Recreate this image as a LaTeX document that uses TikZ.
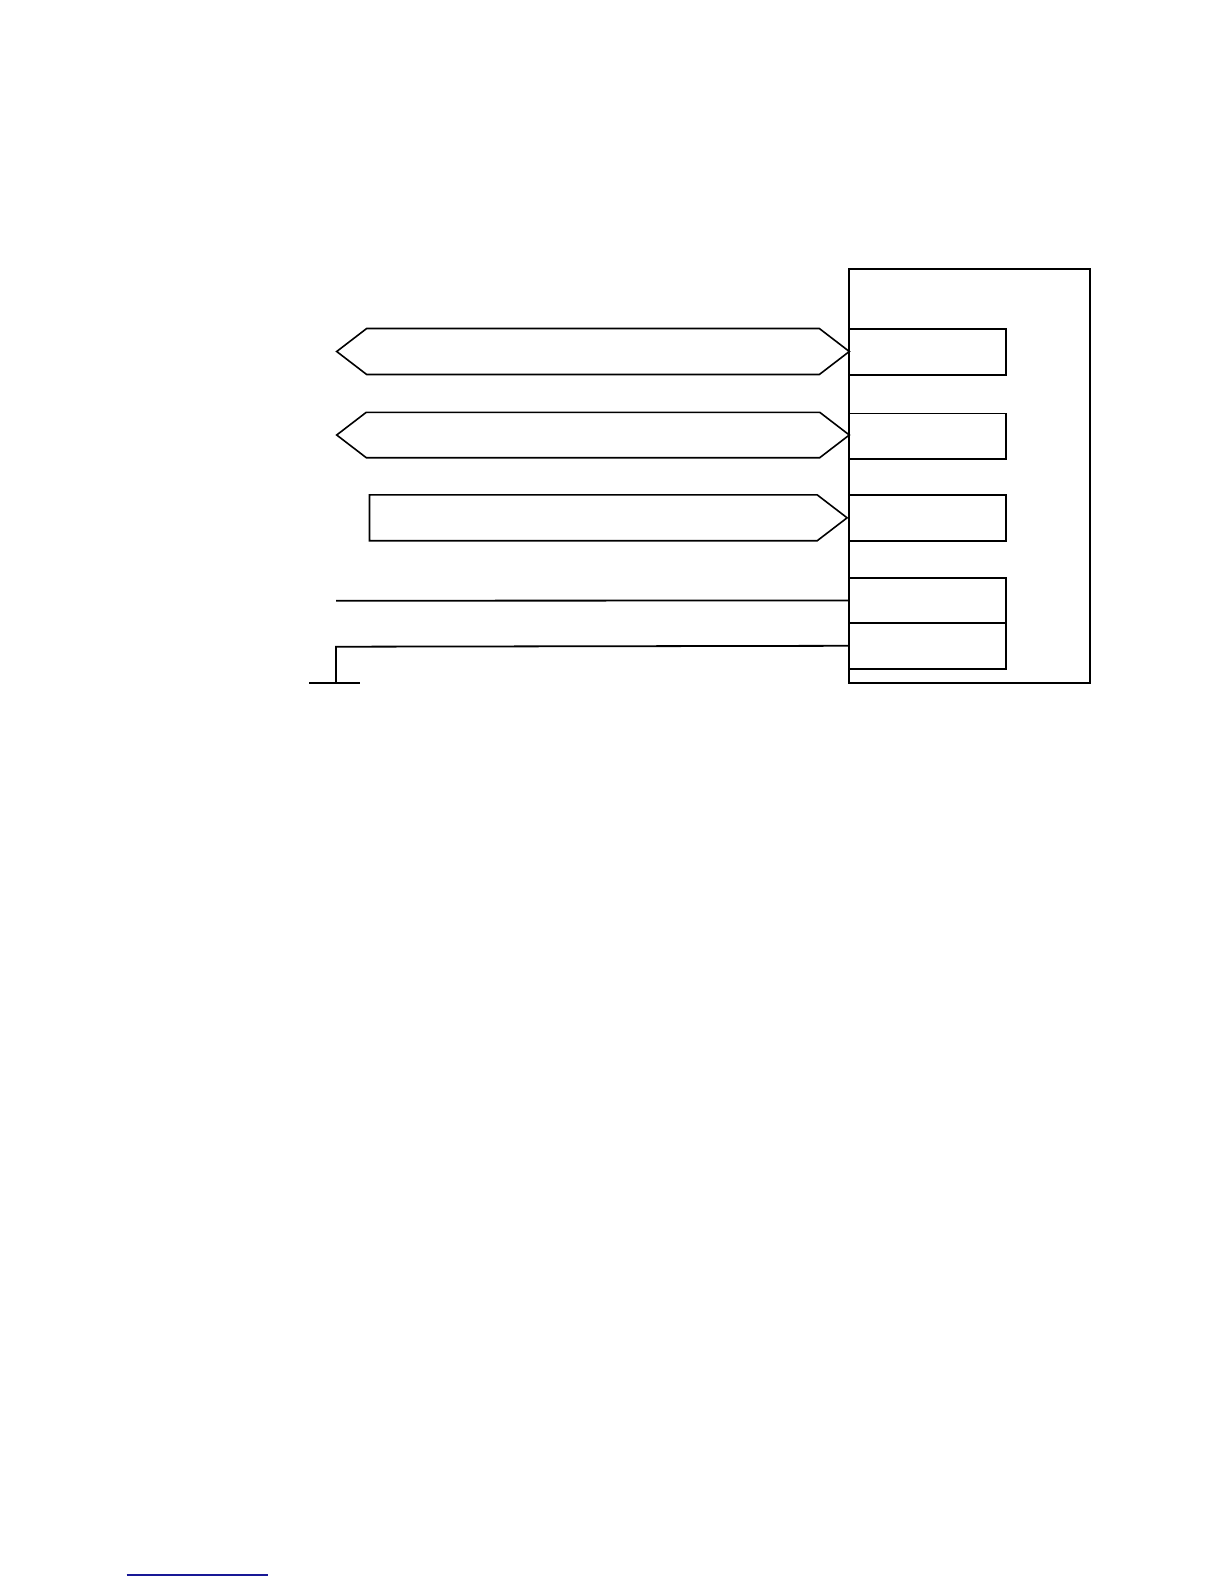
\documentclass[tikz,border=0pt]{standalone}
\usepackage{tikz}
\usetikzlibrary{shapes.symbols,calc}
\definecolor{linkblue}{RGB}{24,24,150}
\tikzstyle{box}=[rectangle,fill=white,minimum width=78.2bp,minimum height=22.8bp,inner sep=0pt, line width=0.9pt, draw=black, anchor = center]
\tikzstyle{bus}=[signal,fill=white,signal pointer angle=75,inner sep=0pt, line width=0.8pt, draw=black, anchor = center]
\tikzstyle{wire}=[line width=0.9pt, draw=black]

\begin{document}
\begin{tikzpicture}[x=0.5bp,y=-0.5bp]
	\useasboundingbox (0,0) rectangle (1224,1584);

	% chip outline
	\node[box, minimum width=120.35bp, minimum height=207.15bp](chip) at (969.65,476.15){};

	% pins
	\node[box](pin1) at (927.5,352){};
	\node[box](pin2) at (927.5,436.3){};
	\node[box](pin3) at (927.5,517.8){};
	\node[box](pin4) at (927.5,600.5){};
	\node[box](pin5) at (927.5,645.8){};

	% buses
	\node[bus, signal to=east and west, minimum width=256.3bp, minimum height=23bp](bus1) at (593,351.5){};
	\node[bus, signal to=east and west, minimum width=256.3bp, minimum height=22.7bp](bus2) at (593,435){};
	\node[bus, signal to=east, signal from=nowhere, minimum width=238.8bp, minimum height=22.9bp, anchor=east](bus3) at (pin3.west){};

	% single lines
	\coordinate (w4) at (336,600.7);
	\coordinate (w5) at (336,646.7);
	\coordinate (gnd) at (336,683.3);
	\draw[wire] (w4) -- (pin4.west);
	\draw[wire] (pin5.west) -- (w5) -- (gnd);
	\draw[wire] ($(gnd)+(-27,0)$) -- ($(gnd)+(24,0)$);

	\coordinate (l1) at (126.7,1575);
	\coordinate (l2) at (268.3,1575);
	\draw[linkblue, line width=0.6pt] (l1) -- (l2);

\end{tikzpicture}
\end{document}
